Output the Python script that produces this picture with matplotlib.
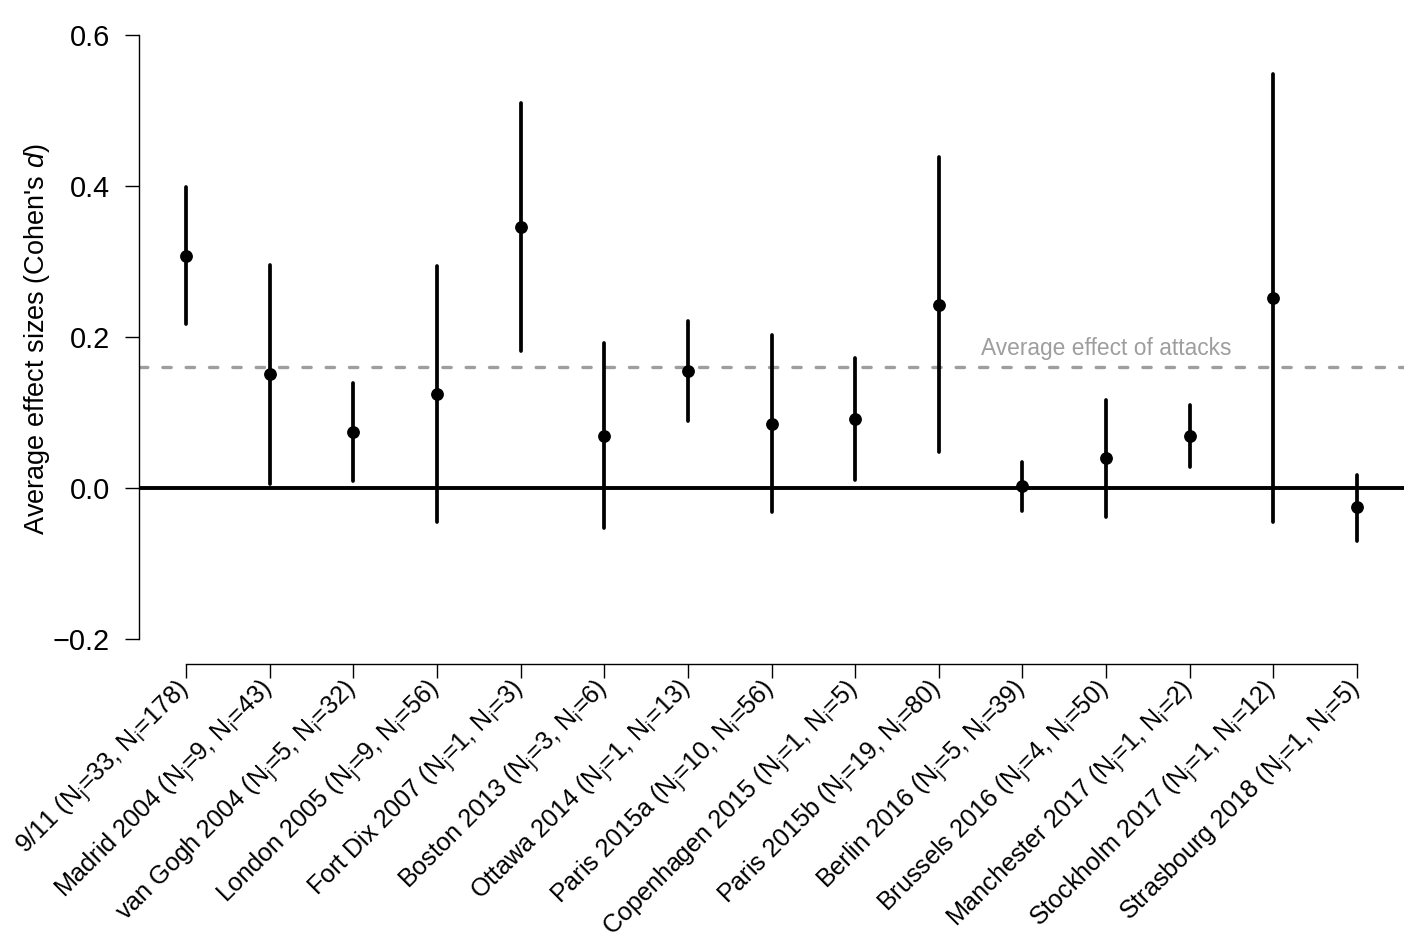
import numpy as np
import matplotlib.pyplot as plt

plt.rcParams['font.family'] = ['Liberation Sans', 'DejaVu Sans']
plt.rcParams['mathtext.fontset'] = 'custom'
plt.rcParams['mathtext.rm'] = 'Liberation Sans'
plt.rcParams['mathtext.it'] = 'Liberation Sans:italic'
plt.rcParams['mathtext.default'] = 'regular'

attacks = ['9/11', 'Madrid 2004', 'van Gogh 2004', 'London 2005', 'Fort Dix 2007',
           'Boston 2013', 'Ottawa 2014', 'Paris 2015a', 'Copenhagen 2015', 'Paris 2015b',
           'Berlin 2016', 'Brussels 2016', 'Manchester 2017', 'Stockholm 2017',
           'Strasbourg 2018']
n_j = [33, 9, 5, 9, 1, 3, 1, 10, 1, 19, 5, 4, 1, 1, 1]
n_i = [178, 43, 32, 56, 3, 6, 13, 56, 5, 80, 39, 50, 2, 12, 5]
effect = [0.308, 0.151, 0.074, 0.125, 0.346, 0.069, 0.155, 0.085, 0.092, 0.243,
          0.003, 0.040, 0.069, 0.252, -0.025]
ci_low = [0.217, 0.006, 0.010, -0.044, 0.182, -0.053, 0.089, -0.031, 0.011, 0.048,
          -0.030, -0.038, 0.028, -0.045, -0.070]
ci_high = [0.399, 0.296, 0.139, 0.294, 0.510, 0.192, 0.222, 0.203, 0.172, 0.439,
           0.035, 0.117, 0.110, 0.549, 0.018]
avg_effect = 0.161

labels = [f"{a} ($N_j$={j}, $N_i$={i})" for a, j, i in zip(attacks, n_j, n_i)]
x = np.arange(1, len(attacks) + 1)

fig = plt.figure(figsize=(14.16, 9.48), dpi=100)
ax = fig.add_axes([139/1416, 1 - 663.5/948, 1265/1416, 652.5/948])

ax.axhline(0, color='black', lw=2.8, zorder=1)
ax.axhline(avg_effect, color='#9e9e9e', lw=2.4, dashes=(2.5, 4.5),
           dash_capstyle='round', zorder=1)
ax.vlines(x, ci_low, ci_high, color='black', lw=2.7, capstyle='round', zorder=2)
ax.plot(x, effect, 'o', color='black', ms=8.2, zorder=3)
ax.text(12, 0.177, 'Average effect of attacks', color='#9e9e9e', fontsize=16.4,
        ha='center', va='baseline')

ax.set_xlim(0.44, 15.56)
ax.set_ylim(-0.232, 0.632)
for s in ['top', 'right']:
    ax.spines[s].set_visible(False)
ax.spines['left'].set_bounds(-0.2, 0.6)
ax.spines['bottom'].set_bounds(1, 15)
ax.spines['left'].set_linewidth(1.0)
ax.spines['bottom'].set_linewidth(1.0)

ax.set_yticks([-0.2, 0.0, 0.2, 0.4, 0.6])
ax.set_yticklabels(['\u22120.2', '0.0', '0.2', '0.4', '0.6'])
ax.tick_params(axis='y', length=10, width=1.0, pad=10.8, labelsize=20.8)
ax.set_xticks(x)
ax.set_xticklabels(labels, rotation=45, ha='right', va='center',
                   rotation_mode='anchor', fontsize=18.1)
ax.tick_params(axis='x', length=10, width=1.0, pad=6.5)

ax.set_ylabel("Average effect sizes (Cohen's $\\mathit{d}$)", fontsize=19.5)
ax.yaxis.set_label_coords(-0.0687, 0.497)

fig.savefig('out.png', dpi=100)
